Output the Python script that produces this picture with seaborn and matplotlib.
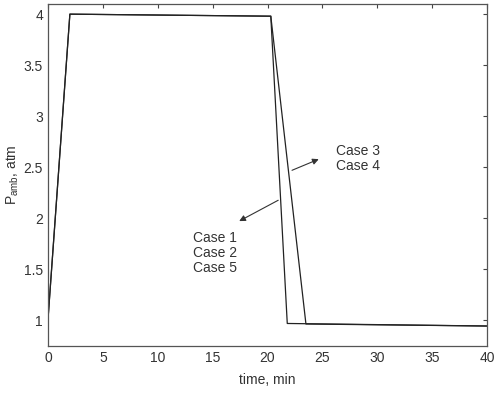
import pandas as pd
import matplotlib
matplotlib.use("Agg")
import matplotlib.pyplot as plt
import seaborn as sns

# time (min) and ambient pressure (atm)
t_case125 = [0.0, 2.0, 20.3, 21.8, 40.0]
p_case125 = [1.0, 4.0, 3.98, 0.97, 0.945]
t_case34 = [0.0, 2.0, 20.3, 23.5, 40.0]
p_case34 = [1.0, 4.0, 3.98, 0.965, 0.945]

xticks = [0, 5, 10, 15, 20, 25, 30, 35, 40]
yticks = [1, 1.5, 2, 2.5, 3, 3.5, 4]

df = pd.concat([
    pd.DataFrame({'time': t_case125, 'P': p_case125, 'case': 'Case 1, 2, 5'}),
    pd.DataFrame({'time': t_case34, 'P': p_case34, 'case': 'Case 3, 4'}),
], ignore_index=True)

sns.set_style('white')
plt.rcParams['font.family'] = ['Liberation Sans', 'DejaVu Sans']

fig = plt.figure(figsize=(4.94, 3.94), dpi=100)
ax = fig.add_axes([0.097, 0.122, 0.889, 0.868])

sns.lineplot(data=df, x='time', y='P', units='case', estimator=None,
             color='#222222', linewidth=0.9, ax=ax, legend=False)

ax.set_xlim(0, 40)
ax.set_ylim(0.75, 4.1)
ax.set_xticks(xticks)
ax.set_yticks(yticks)
ax.set_xticklabels([str(v) for v in xticks])
ax.set_yticklabels([f'{v:g}' for v in yticks])
ax.tick_params(direction='in', length=3, width=0.8, colors='#444444',
               labelcolor='#333333', labelsize=10, top=True, right=True,
               labeltop=False, labelright=False)
for s in ax.spines.values():
    s.set_color('#555555')
    s.set_linewidth(0.9)

ax.set_xlabel('time, min', fontsize=10, color='#333333', labelpad=6)
ax.set_ylabel('P$_{\\mathregular{amb}}$, atm', fontsize=10, color='#333333', labelpad=2)

arrow = dict(arrowstyle='-|>', color='#333333', lw=0.8, mutation_scale=9)
ax.annotate('', xy=(24.9, 2.59), xytext=(22.0, 2.46), arrowprops=arrow)
ax.text(26.2, 2.59, 'Case 3\nCase 4', fontsize=10, color='#333333',
        va='center', ha='left', linespacing=1.1)
ax.annotate('', xy=(17.2, 1.96), xytext=(21.2, 2.19), arrowprops=arrow)
ax.text(13.2, 1.66, 'Case 1\nCase 2\nCase 5', fontsize=10, color='#333333',
        va='center', ha='left', linespacing=1.1)

fig.savefig('out.png', dpi=100)
